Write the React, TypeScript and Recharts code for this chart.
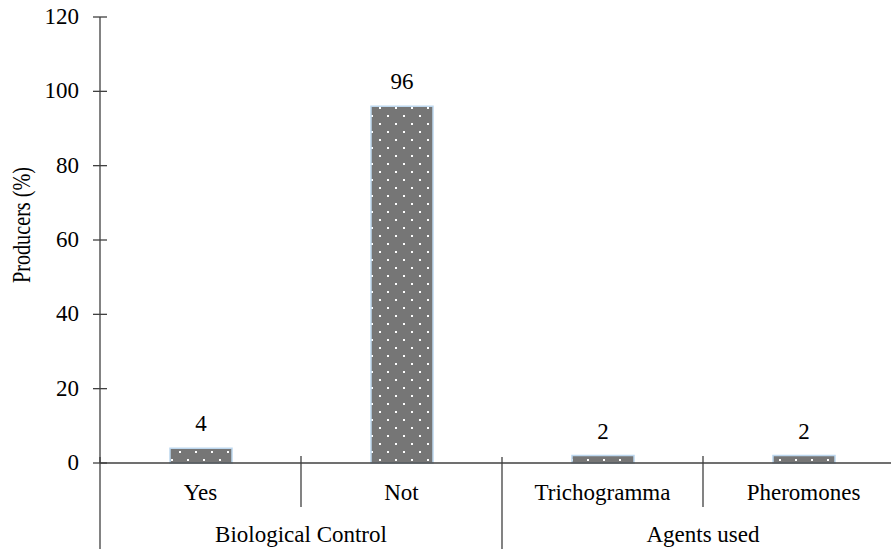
import { BarChart, Bar, XAxis, YAxis, LabelList } from 'recharts';

const categories = ['Yes', 'Not', 'Trichogramma', 'Pheromones'];
const groups = ['Biological Control', 'Biological Control', 'Agents used', 'Agents used'];
const producers = [4, 96, 2, 2];
const yTicks = [0, 20, 40, 60, 80, 100, 120];

const data = categories.map((name, i) => ({ name, group: groups[i], value: producers[i] }));

const FONT = 'Liberation Serif';
const AXIS = '#404040';
const txt = { fontFamily: FONT, fontSize: 23, fill: '#000' };

function YTick({ x, y, payload }: any) {
  return (
    <g>
      <line x1={x - 7} x2={x + 7} y1={y} y2={y} stroke={AXIS} strokeWidth={1.3} />
      <text x={x - 21} y={y} dy={7} textAnchor="end" style={txt}>
        {payload.value}
      </text>
    </g>
  );
}

// category label + separators, group label under the first category of each group
function XTick({ x, y, payload, index }: any) {
  const half = payload.offset || 100;
  const left = x - half;
  const g = groups[index];
  const first = index === 0 || groups[index - 1] !== g;
  const span = groups.filter((v) => v === g).length;
  return (
    <g>
      {first ? (
        <line x1={left} x2={left} y1={y - 6} y2={y + 86} stroke={AXIS} strokeWidth={1.3} />
      ) : (
        <line x1={left} x2={left} y1={y - 7} y2={y + 44} stroke={AXIS} strokeWidth={1.3} />
      )}
      <text x={x} y={y + 37} textAnchor="middle" style={txt}>
        {payload.value}
      </text>
      {first && (
        <text x={left + span * half} y={y + 79} textAnchor="middle" style={txt}>
          {g}
        </text>
      )}
    </g>
  );
}

// narrow, rotated axis title
function YTitle({ viewBox }: any) {
  const x = viewBox.x + 30;
  const y = viewBox.y + viewBox.height / 2 - 15;
  return (
    <text
      x={x}
      y={y}
      transform={`rotate(-90 ${x} ${y})`}
      textAnchor="middle"
      textLength={116}
      lengthAdjust="spacingAndGlyphs"
      style={{ ...txt, fontSize: 25 }}
    >
      Producers (%)
    </text>
  );
}

export default function App() {
  return (
    <div
      style={{
        position: 'absolute',
        left: 0,
        top: 0,
        width: 891,
        height: 550,
        overflow: 'hidden',
        background: '#fff',
        fontFamily: FONT,
      }}
    >
      <BarChart width={905} height={550} data={data} margin={{ top: 17, right: 1, left: 0, bottom: 0 }}>
        <defs>
          <pattern id="dots" patternUnits="userSpaceOnUse" width={16} height={16}>
            <rect width={16} height={16} fill="#767676" />
            <rect x={3} y={3} width={2} height={2} fill="#fff" />
            <rect x={11} y={11} width={2} height={2} fill="#fff" />
          </pattern>
        </defs>
        <XAxis
          dataKey="name"
          axisLine={{ stroke: AXIS, strokeWidth: 1.3 }}
          tickLine={false}
          tickSize={0}
          tickMargin={0}
          tick={<XTick />}
          interval={0}
          height={87}
        />
        <YAxis
          width={100}
          domain={[0, 120]}
          ticks={yTicks}
          axisLine={{ stroke: AXIS, strokeWidth: 1.3 }}
          tickLine={false}
          tickSize={0}
          tickMargin={0}
          tick={<YTick />}
          label={{ content: <YTitle /> }}
        />
        <Bar dataKey="value" barSize={62} fill="url(#dots)" stroke="#bdd7ee" strokeWidth={1.5} isAnimationActive={false}>
          <LabelList dataKey="value" position="top" offset={17} style={txt} />
        </Bar>
      </BarChart>
    </div>
  );
}
